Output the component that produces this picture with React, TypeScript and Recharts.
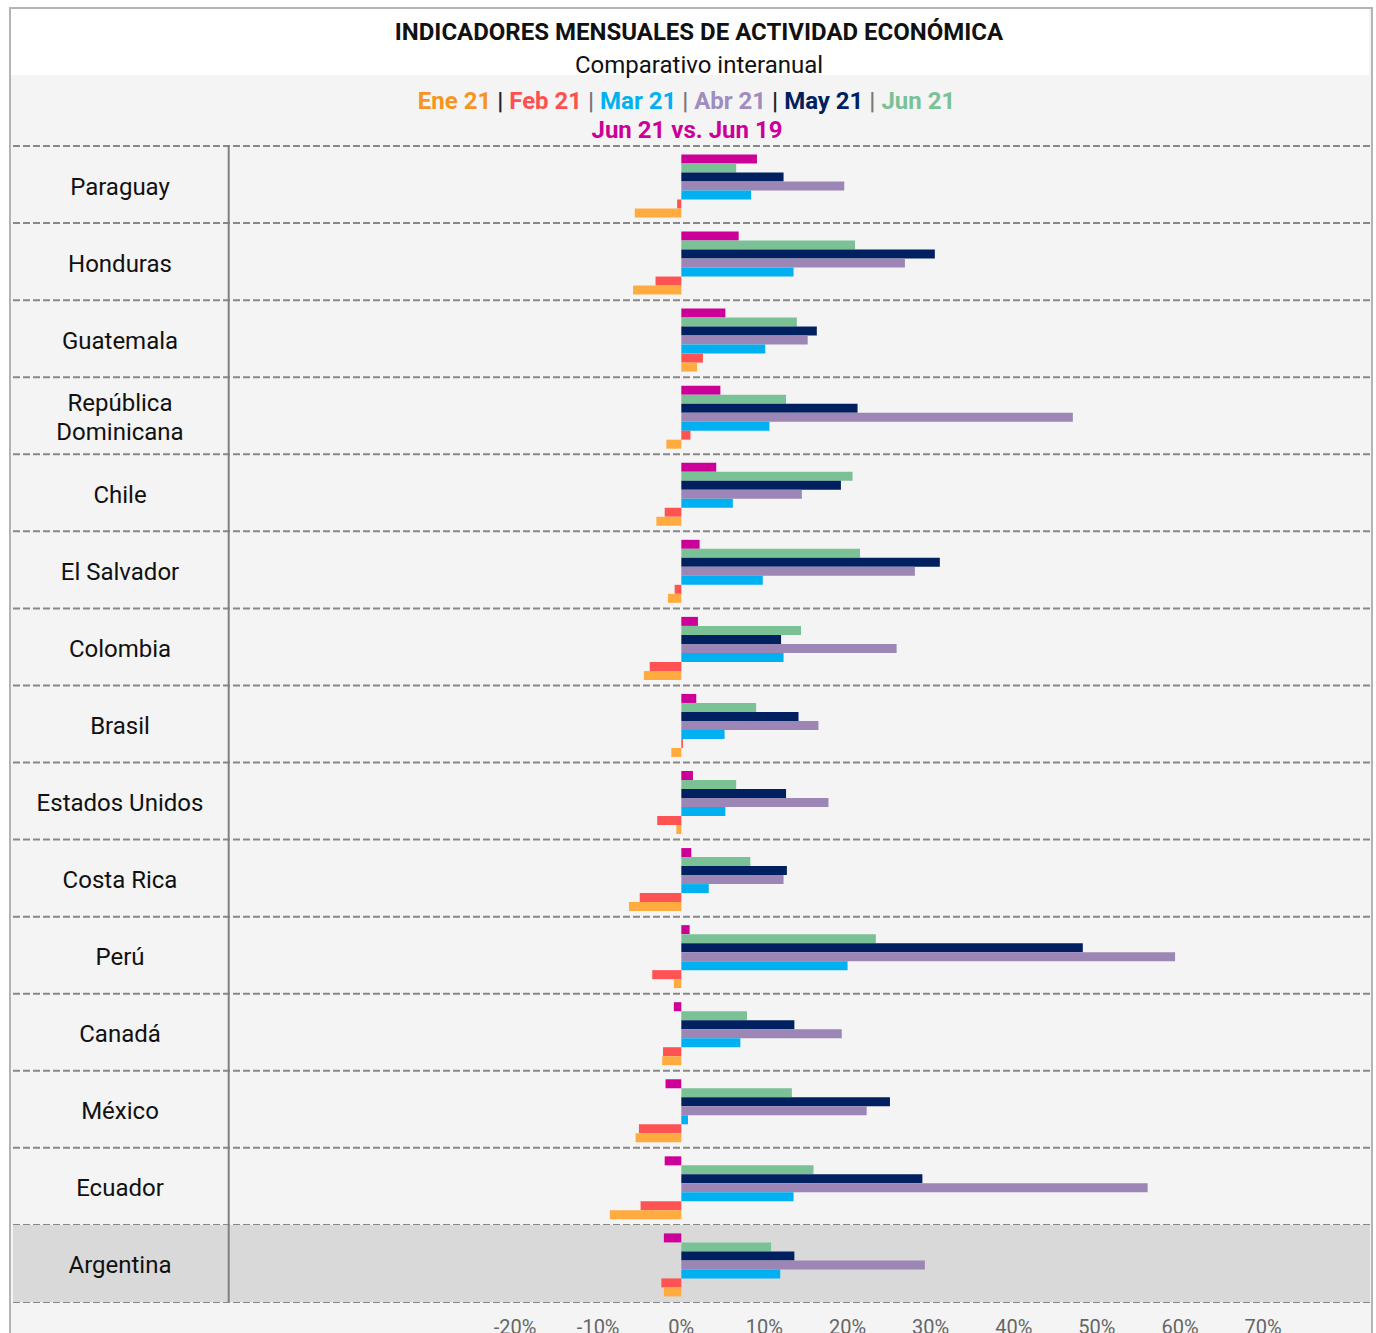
import React from 'react';
import { BarChart, Bar, XAxis, YAxis, CartesianGrid, ReferenceArea, ReferenceLine } from 'recharts';

const countries = ['Paraguay', 'Honduras', 'Guatemala', 'República Dominicana', 'Chile', 'El Salvador', 'Colombia', 'Brasil', 'Estados Unidos', 'Costa Rica', 'Perú', 'Canadá', 'México', 'Ecuador', 'Argentina'];
const ene21 = [-5.6, -5.8, 1.9, -1.8, -3.0, -1.6, -4.5, -1.2, -0.6, -6.3, -0.9, -2.3, -5.5, -8.6, -2.1];
const feb21 = [-0.5, -3.1, 2.6, 1.1, -2.0, -0.8, -3.8, 0.2, -2.9, -5.0, -3.5, -2.2, -5.1, -4.9, -2.4];
const mar21 = [8.4, 13.5, 10.1, 10.6, 6.2, 9.8, 12.3, 5.2, 5.3, 3.3, 20.0, 7.1, 0.8, 13.5, 11.9];
const abr21 = [19.6, 26.9, 15.2, 47.1, 14.5, 28.1, 25.9, 16.5, 17.7, 12.3, 59.4, 19.3, 22.3, 56.1, 29.3];
const may21 = [12.3, 30.5, 16.3, 21.2, 19.2, 31.1, 12.0, 14.1, 12.6, 12.7, 48.3, 13.6, 25.1, 29.0, 13.6];
const jun21 = [6.6, 20.9, 13.9, 12.6, 20.6, 21.5, 14.4, 9.0, 6.6, 8.3, 23.4, 7.9, 13.3, 15.9, 10.8];
const jun21vs19 = [9.1, 6.9, 5.3, 4.7, 4.2, 2.2, 2.0, 1.8, 1.4, 1.2, 1.0, -0.9, -1.9, -2.0, -2.1];

const xTicks = [-20, -10, 0, 10, 20, 30, 40, 50, 60, 70];
const highlighted = 'Argentina';

const data = countries.map((c, i) => ({
  country: c,
  ene21: ene21[i],
  feb21: feb21[i],
  mar21: mar21[i],
  abr21: abr21[i],
  may21: may21[i],
  jun21: jun21[i],
  jun21vs19: jun21vs19[i],
}));

const C = {
  ene: '#FFAB40',
  feb: '#FF5252',
  mar: '#00B0F0',
  abr: '#9B86B6',
  may: '#002060',
  jun: '#7BC196',
  vs: '#CC0099',
};

const FONT = 'Roboto, "Noto Sans", sans-serif';

const renderCountryTick = (props: any) => {
  const { y, payload } = props;
  const v: string = String(payload && payload.value != null ? payload.value : '');
  const parts = v === 'República Dominicana' ? ['República', 'Dominicana'] : [v];
  const lh = 29;
  const y0 = y + 2 - ((parts.length - 1) * lh) / 2;
  return (
    <g>
      {parts.map((p, i) => (
        <text key={i} x={120} y={y0 + i * lh} textAnchor="middle" dominantBaseline="central" fontFamily={FONT} fontSize={24} fill="#111">
          {p}
        </text>
      ))}
    </g>
  );
};

const bandLines = ({ offset }: any) => {
  const n = countries.length;
  const out: number[] = [];
  for (let i = 0; i <= n; i++) out.push(offset.top + (i * offset.height) / n);
  return out;
};

export default function App() {
  return (
    <div style={{ position: 'absolute', left: 0, top: 0, width: 1376, height: 1333, overflow: 'hidden', fontFamily: FONT }}>
      <div style={{ position: 'absolute', left: 9, top: 7, width: 1360, height: 1340, border: '2px solid #b4b4b4', background: '#f4f4f4' }} />
      <div style={{ position: 'absolute', left: 11, top: 9, width: 1358, height: 66, background: '#ffffff' }} />
      <div style={{ position: 'absolute', left: 0, top: 18, width: 1398, textAlign: 'center', fontWeight: 700, fontSize: 24, color: '#111', lineHeight: '28px' }}>
        INDICADORES MENSUALES DE ACTIVIDAD ECONÓMICA
      </div>
      <div style={{ position: 'absolute', left: 0, top: 51, width: 1398, textAlign: 'center', fontSize: 24, color: '#111', lineHeight: '28px' }}>
        Comparativo interanual
      </div>
      <div style={{ position: 'absolute', left: 0, top: 87, width: 1373, textAlign: 'center', fontWeight: 700, fontSize: 24, lineHeight: '28px', color: '#222' }}>
        <span style={{ color: '#F7941D' }}>Ene 21</span>
        <span> | </span>
        <span style={{ color: '#FF5050' }}>Feb 21</span>
        <span style={{ color: '#777' }}> | </span>
        <span style={{ color: '#00B0F0' }}>Mar 21</span>
        <span style={{ color: '#777' }}> | </span>
        <span style={{ color: '#A08CBF' }}>Abr 21</span>
        <span> | </span>
        <span style={{ color: '#002060' }}>May 21</span>
        <span style={{ color: '#777' }}> | </span>
        <span style={{ color: '#7BC196' }}>Jun 21</span>
      </div>
      <div style={{ position: 'absolute', left: 0, top: 116, width: 1374, textAlign: 'center', fontWeight: 700, fontSize: 24, lineHeight: '28px', color: '#CC0099' }}>
        Jun 21 vs. Jun 19
      </div>
      <div style={{ position: 'absolute', left: 0, top: 0 }}>
        <BarChart
          width={1376}
          height={1333}
          data={data}
          layout="vertical"
          margin={{ top: 146, right: 6, bottom: 0, left: 12 }}
          barCategoryGap="11%"
          barGap={0}
        >
          <ReferenceArea y1={highlighted} y2={highlighted} fill="#D9D9D9" fillOpacity={1} stroke="none" />
          <CartesianGrid horizontal vertical={false} horizontalCoordinatesGenerator={bandLines} stroke="#888888" strokeWidth={2} strokeDasharray="7 3" />
          <XAxis
            type="number"
            domain={[-80.4, 82.85]}
            ticks={xTicks}
            tickFormatter={(v: number) => `${v}%`}
            axisLine={false}
            tickLine={false}
            tickSize={0}
            tickMargin={18}
            height={31}
            tick={{ fill: '#666', fontSize: 20, fontFamily: FONT }}
            allowDataOverflow
          />
          <YAxis dataKey="country" type="category" width={1} axisLine={false} tickLine={false} tick={renderCountryTick} interval={0} />
          <ReferenceLine x={-54.45} stroke="#808080" strokeWidth={2} />
          <Bar dataKey="jun21vs19" fill={C.vs} isAnimationActive={false} />
          <Bar dataKey="jun21" fill={C.jun} isAnimationActive={false} />
          <Bar dataKey="may21" fill={C.may} isAnimationActive={false} />
          <Bar dataKey="abr21" fill={C.abr} isAnimationActive={false} />
          <Bar dataKey="mar21" fill={C.mar} isAnimationActive={false} />
          <Bar dataKey="feb21" fill={C.feb} isAnimationActive={false} />
          <Bar dataKey="ene21" fill={C.ene} isAnimationActive={false} />
        </BarChart>
      </div>
    </div>
  );
}
